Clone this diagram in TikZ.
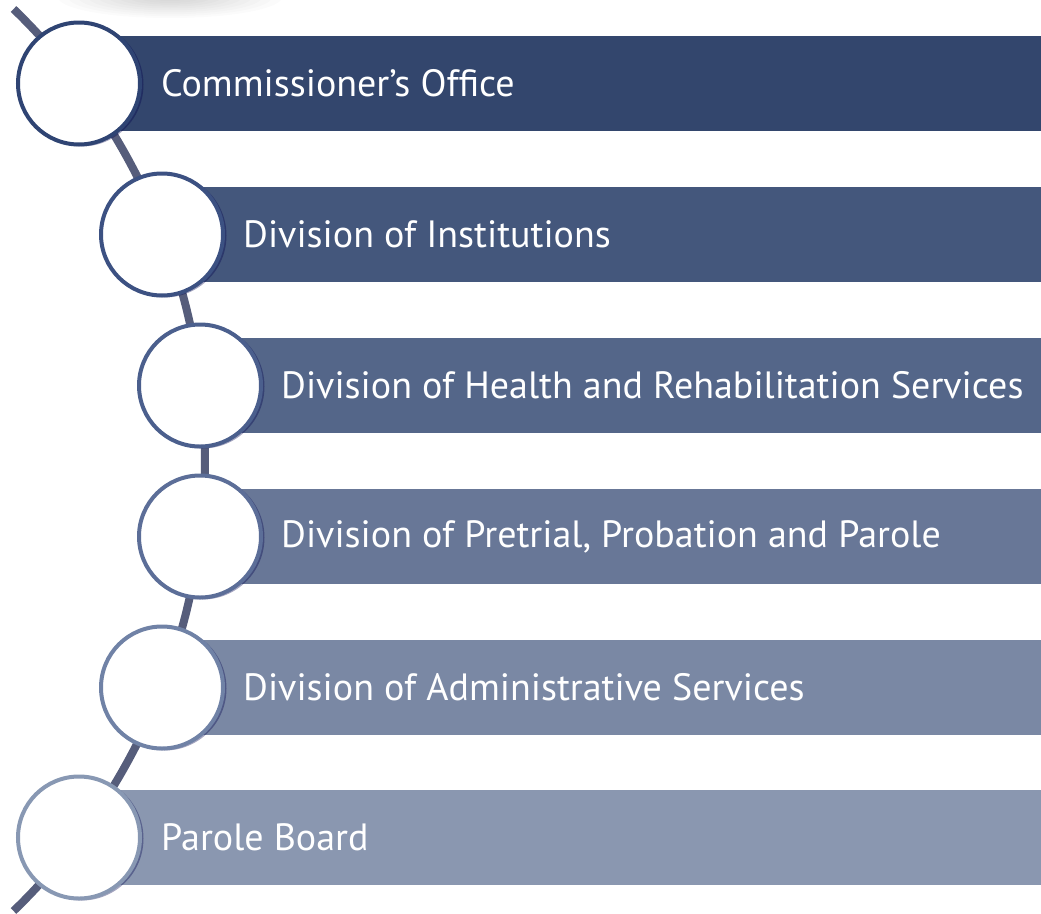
\documentclass[tikz,border=0pt]{standalone}
\usepackage{fontspec}
\setmainfont{PT Sans}
\definecolor{spine}{HTML}{565D7B}
\definecolor{barA}{HTML}{33466D}
\definecolor{barB}{HTML}{44577C}
\definecolor{barC}{HTML}{546689}
\definecolor{barD}{HTML}{687797}
\definecolor{barE}{HTML}{7A88A4}
\definecolor{barF}{HTML}{8A97B0}
\definecolor{ringA}{HTML}{2F4473}
\definecolor{ringB}{HTML}{3C5182}
\definecolor{ringC}{HTML}{4B5F8D}
\definecolor{ringD}{HTML}{5C6E98}
\definecolor{ringE}{HTML}{7082A6}
\definecolor{ringF}{HTML}{8898B3}
\tikzset{
  barbox/.style={draw=none, minimum height=95pt, inner sep=0pt, anchor=west},
  ring/.style={circle, fill=white, line width=4pt, minimum size=122pt, inner sep=0pt},
  ringshadow/.style={circle, fill=black!70!blue, opacity=0.35, minimum size=124pt, inner sep=0pt},
  label/.style={anchor=west, text=white, inner sep=0pt, font=\fontsize{38}{46}\selectfont}
}
\begin{document}
\begin{tikzpicture}[x=1pt,y=-1pt]
\useasboundingbox (0,0) rectangle (1041,913);
% soft shadow at the top
\foreach \r in {0.1,0.2,...,1.0}
  \fill[black, opacity=0.016] (170,-3) ellipse ({100*\r+12} and {19*\r+2});
% spine
\draw[spine, line width=8pt] plot[domain=-46:46, samples=80, smooth]
  ({-422+627*cos(\x)}, {460+627*sin(\x)});
% bars
\node[barbox, fill=barA, minimum width=962pt] (b1) at (79,83.5) {};
\node[barbox, fill=barB, minimum width=879pt] (b2) at (162,234.5) {};
\node[barbox, fill=barC, minimum width=841pt] (b3) at (200,385.5) {};
\node[barbox, fill=barD, minimum width=841pt] (b4) at (200,536.5) {};
\node[barbox, fill=barE, minimum width=879pt] (b5) at (162,687.5) {};
\node[barbox, fill=barF, minimum width=962pt] (b6) at (79,837.5) {};
% circle shadows
\node[ringshadow] (s1) at (81.5,84.5) {};
\node[ringshadow] (s2) at (164.5,235.5) {};
\node[ringshadow] (s3) at (202.5,386.5) {};
\node[ringshadow] (s4) at (202.5,537.5) {};
\node[ringshadow] (s5) at (164.5,688.5) {};
\node[ringshadow] (s6) at (81.5,838.5) {};
% circles
\node[ring, draw=ringA] (c1) at (79,83.5) {};
\node[ring, draw=ringB] (c2) at (162,234.5) {};
\node[ring, draw=ringC] (c3) at (200,385.5) {};
\node[ring, draw=ringD] (c4) at (200,536.5) {};
\node[ring, draw=ringE] (c5) at (162,687.5) {};
\node[ring, draw=ringF] (c6) at (79,837.5) {};
% labels
\node[label] (t1) at (161,83.5) {Commissioner’s Office};
\node[label] (t2) at (243,234.5) {Division of Institutions};
\node[label] (t3) at (281,385.5) {Division of Health and Rehabilitation Services};
\node[label] (t4) at (281,536.5) {Division of Pretrial, Probation and Parole};
\node[label] (t5) at (243,687.5) {Division of Administrative Services};
\node[label] (t6) at (161,837.5) {Parole Board};
\end{tikzpicture}
\end{document}
